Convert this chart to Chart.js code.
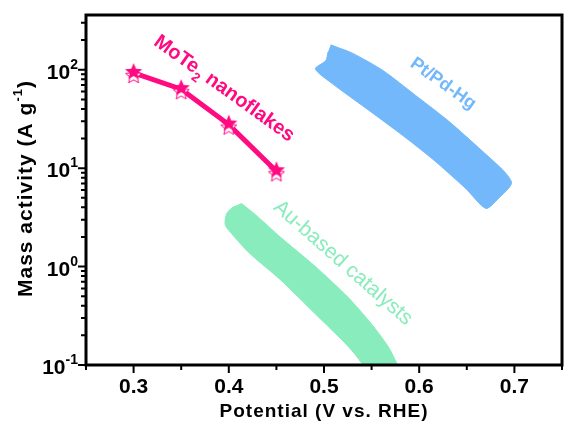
<!DOCTYPE html>
<html>
<head>
  <title>Mass activity</title>
  <script src="https://cdn.jsdelivr.net/npm/chart.js"></script>
  <style>
    body { margin: 0; background: #fff; }
    #wrap { width: 577px; height: 428px; }
  </style>
</head>
<body>
  <div id="wrap"><canvas id="myChart"></canvas></div>
  <script>
    // MoTe2 nanoflakes
    var potential = [0.30, 0.35, 0.40, 0.45];
    var moTe2Activity = [92.7, 63.5, 27.7, 9.3];

    // Pt/Pd-Hg band outline (upper edge, right end, lower edge, left end)
    var ptPdX = [0.507, 0.530, 0.562, 0.596, 0.631, 0.666, 0.690, 0.697, 0.683, 0.670, 0.649, 0.614, 0.579, 0.544, 0.509, 0.491, 0.502, 0.504];
    var ptPdY = [179, 147, 98, 55, 30, 15.0, 9.1, 7.0, 4.9, 3.9, 6.2, 12.4, 22.9, 40.7, 72, 102, 124, 150];

    // Au-based band outline
    var auX = [0.413, 0.428, 0.455, 0.490, 0.525, 0.549, 0.567, 0.576, 0.582, 0.546, 0.539, 0.525, 0.490, 0.455, 0.421, 0.398, 0.396, 0.398, 0.405];
    var auY = [4.4, 3.37, 1.96, 1.02, 0.49, 0.267, 0.156, 0.106, 0.072, 0.076, 0.106, 0.156, 0.337, 0.724, 1.39, 2.47, 2.77, 3.49, 4.07];

    var xTicks = [0.3, 0.4, 0.5, 0.6, 0.7];
    var xMinorTicks = [0.25, 0.35, 0.45, 0.55, 0.65, 0.75];
    var yTickExps = [-1, 0, 1, 2];
    var yMin = 0.1, yMax = 360;

    var PINK = '#ff0a80';
    var BLUE = '#72b8fb';
    var GREEN = '#88ecbc';
    var FONT = "'Liberation Sans', Arial, sans-serif";

    function toPoints(xs, ys) {
      var pts = [];
      for (var i = 0; i < xs.length; i++) {
        pts.push({x: xs[i], y: ys[i]});
      }
      return pts;
    }

    function starPath(c, cx, cy, R, r) {
      c.beginPath();
      for (var i = 0; i < 10; i++) {
        var ang = -Math.PI / 2 + i * Math.PI / 5;
        var rad = i % 2 ? r : R;
        var px = cx + rad * Math.cos(ang), py = cy + rad * Math.sin(ang);
        if (i === 0) c.moveTo(px, py); else c.lineTo(px, py);
      }
      c.closePath();
    }

    // star marker: hollow star slightly below a filled one
    var starImg = document.createElement('canvas');
    starImg.width = 22;
    starImg.height = 26;
    var sc = starImg.getContext('2d');
    starPath(sc, 11, 16, 8.5, 3.8);
    sc.fillStyle = '#fff';
    sc.fill();
    sc.strokeStyle = PINK;
    sc.lineWidth = 1;
    sc.stroke();
    starPath(sc, 11, 12, 9, 4);
    sc.fillStyle = PINK;
    sc.fill();

    function drawRich(c, parts, cx, cy, angle) {
      var total = 0;
      parts.forEach(function (p) {
        c.font = p.font;
        p.w = c.measureText(p.t).width;
        total += p.w;
      });
      c.save();
      c.translate(cx, cy);
      c.rotate(angle);
      c.textAlign = 'left';
      c.textBaseline = 'alphabetic';
      var x = -total / 2;
      parts.forEach(function (p) {
        c.font = p.font;
        c.fillText(p.t, x, p.dy);
        x += p.w;
      });
      c.restore();
    }

    var frame = {
      id: 'frame',
      afterDraw: function (chart) {
        var c = chart.ctx, a = chart.chartArea;
        var xs = chart.scales.x, ys = chart.scales.y;
        c.save();
        c.strokeStyle = '#000';
        c.fillStyle = '#000';

        // ticks
        c.lineWidth = 2;
        c.beginPath();
        xTicks.forEach(function (v) {
          var x = xs.getPixelForValue(v);
          c.moveTo(x, a.bottom); c.lineTo(x, a.bottom + 8);
        });
        xMinorTicks.forEach(function (v) {
          var x = xs.getPixelForValue(v);
          c.moveTo(x, a.bottom); c.lineTo(x, a.bottom + 5);
        });
        yTickExps.forEach(function (e) {
          var y = ys.getPixelForValue(Math.pow(10, e));
          c.moveTo(a.left, y); c.lineTo(a.left - 8, y);
          for (var m = 2; m <= 9; m++) {
            var v = m * Math.pow(10, e);
            if (v > yMax) break;
            var ym = ys.getPixelForValue(v);
            c.moveTo(a.left, ym); c.lineTo(a.left - 5, ym);
          }
        });
        c.stroke();

        // frame
        c.lineWidth = 3;
        c.strokeRect(a.left, a.top, a.right - a.left, a.bottom - a.top);

        // x tick labels
        c.font = 'bold 21px ' + FONT;
        c.textAlign = 'center';
        c.textBaseline = 'alphabetic';
        xTicks.forEach(function (v) {
          c.fillText(v.toFixed(1), xs.getPixelForValue(v), a.bottom + 28);
        });

        // y tick labels 10^n
        yTickExps.forEach(function (e) {
          var y = ys.getPixelForValue(Math.pow(10, e));
          var sup = String(e);
          c.textAlign = 'right';
          c.font = 'bold 14px ' + FONT;
          var sw = c.measureText(sup).width;
          c.fillText(sup, a.left - 8, y - 1);
          c.font = 'bold 21px ' + FONT;
          c.fillText('10', a.left - 8 - sw, y + 9);
        });

        // axis titles
        c.letterSpacing = '1px';
        c.textAlign = 'center';
        c.font = 'bold 19px ' + FONT;
        c.fillText('Potential (V vs. RHE)', (a.left + a.right) / 2, 417);

        c.save();
        c.translate(32, 297);
        c.rotate(-Math.PI / 2);
        c.textAlign = 'left';
        var bx = 0;
        c.font = 'bold 21px ' + FONT;
        c.fillText('Mass activity (A g', bx, 0);
        bx += c.measureText('Mass activity (A g').width;
        c.font = 'bold 13px ' + FONT;
        c.fillText('-1', bx, -10);
        bx += c.measureText('-1').width;
        c.font = 'bold 21px ' + FONT;
        c.fillText(')', bx, 0);
        c.restore();
        c.letterSpacing = '0px';

        // series labels
        c.fillStyle = PINK;
        drawRich(c, [
          {t: 'MoTe', font: 'bold 20px ' + FONT, dy: 7},
          {t: '2', font: 'bold 13px ' + FONT, dy: 13},
          {t: ' nanoflakes', font: 'bold 20px ' + FONT, dy: 7}
        ], 225, 87.5, 35.7 * Math.PI / 180);

        c.fillStyle = BLUE;
        drawRich(c, [{t: 'Pt/Pd-Hg', font: 'bold 18px ' + FONT, dy: 6.5}], 444, 82.5, 35.5 * Math.PI / 180);

        c.fillStyle = GREEN;
        drawRich(c, [{t: 'Au-based catalysts', font: '21px ' + FONT, dy: 7.5}], 344, 261.7, 41.3 * Math.PI / 180);

        c.restore();
      }
    };

    var ctx = document.getElementById('myChart').getContext('2d');
    var chart = new Chart(ctx, {
      type: 'scatter',
      data: {
        datasets: [
          {
            label: 'MoTe2 nanoflakes',
            data: toPoints(potential, moTe2Activity),
            showLine: true,
            borderColor: PINK,
            backgroundColor: PINK,
            borderWidth: 5,
            pointStyle: starImg,
            pointRadius: 10
          },
          {
            label: 'Pt/Pd-Hg',
            data: toPoints(ptPdX, ptPdY),
            showLine: true,
            fill: 'shape',
            tension: 0.25,
            borderColor: BLUE,
            backgroundColor: BLUE,
            borderWidth: 1,
            pointRadius: 0
          },
          {
            label: 'Au-based catalysts',
            data: toPoints(auX, auY),
            showLine: true,
            fill: 'shape',
            tension: 0.25,
            borderColor: GREEN,
            backgroundColor: GREEN,
            borderWidth: 1,
            pointRadius: 0
          }
        ]
      },
      options: {
        responsive: true,
        maintainAspectRatio: false,
        animation: false,
        events: [],
        layout: {
          padding: {left: 86, top: 10, right: 13, bottom: 63}
        },
        scales: {
          x: {type: 'linear', min: 0.25, max: 0.75, display: false},
          y: {type: 'logarithmic', min: yMin, max: yMax, display: false}
        },
        plugins: {
          legend: {display: false},
          tooltip: {enabled: false}
        }
      },
      plugins: [frame]
    });
  </script>
</body>
</html>
